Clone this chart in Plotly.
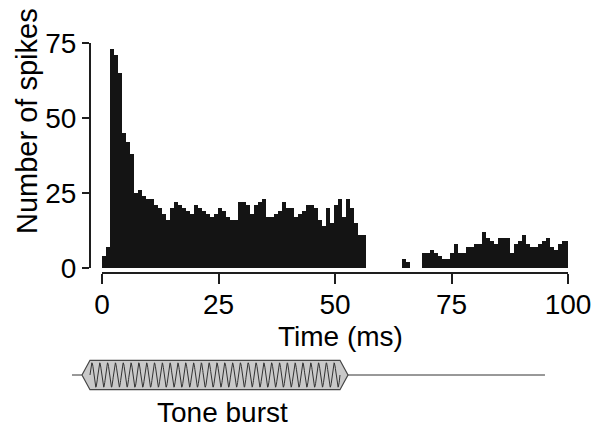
import numpy as np
import plotly.graph_objects as go

# ---- data ----
bin_width_ms = 0.8584
spike_counts = [
    4, 7, 73, 71, 65, 45, 42, 38, 25, 26,
    24, 23, 23, 21, 20, 18, 16, 20, 22, 21,
    20, 19, 18, 21, 20, 19, 18, 17, 18, 20,
    19, 17, 16, 16, 22, 22, 21, 18, 21, 22,
    23, 17, 17, 18, 19, 22, 20, 20, 17, 18,
    19, 21, 21, 20, 16, 14, 20, 15, 21, 23,
    17, 23, 20, 15, 11, 11, 0, 0, 0, 0,
    0, 0, 0, 0, 0, 3, 2, 0, 0, 0,
    5, 5, 6, 5, 4, 3, 3, 5, 8, 5,
    5, 7, 7, 8, 8, 12, 10, 9, 8, 10,
    10, 10, 5, 8, 9, 11, 8, 7, 7, 8,
    9, 10, 7, 6, 8, 9, 9,
]
x_ticks = [0, 25, 50, 75, 100]
y_ticks = [0, 25, 50, 75]
tone_start_ms = -2.58
tone_end_ms = 51.07
tone_cycles = 32

bin_centers = [(i + 0.5) * bin_width_ms for i in range(len(spike_counts))]

W, H = 591, 430
FONT = "Liberation Sans, Arial, Helvetica, sans-serif"
FS = 28
px_per_ms = 4.66

fig = go.Figure()

fig.add_trace(go.Bar(
    x=bin_centers, y=spike_counts, width=bin_width_ms,
    marker=dict(color="#141414", line=dict(width=0)),
    xaxis="x", yaxis="y", hoverinfo="skip",
))

# ---- tone burst schematic (auxiliary hidden axes, in ms units) ----
x_left = -102 / px_per_ms
x_right = (W - 102) / px_per_ms
env_h = 0.64
t0, t1 = tone_start_ms, tone_end_ms
p0, p1 = t0 - 8 / px_per_ms, t1 + 8 / px_per_ms
fig.add_trace(go.Scatter(
    x=[-6.44, 95.06], y=[0, 0], mode="lines",
    line=dict(color="#333333", width=1), xaxis="x2", yaxis="y2", hoverinfo="skip",
))
fig.add_trace(go.Scatter(
    x=[p0, t0, t1, p1, t1, t0, p0], y=[0, env_h, env_h, 0, -env_h, -env_h, 0],
    mode="lines", fill="toself", fillcolor="#c9c9c9",
    line=dict(color="#444444", width=1.2), xaxis="x2", yaxis="y2", hoverinfo="skip",
))
tt = np.linspace(t0, t1, 1200)
fig.add_trace(go.Scatter(
    x=tt, y=0.53 * np.sin(2 * np.pi * tone_cycles * (tt - t0) / (t1 - t0)),
    mode="lines", line=dict(color="#333333", width=1),
    xaxis="x2", yaxis="y2", hoverinfo="skip",
))

axis_common = dict(
    showline=True, linecolor="#1e1e1e", linewidth=2,
    ticks="outside", tickwidth=2, tickcolor="#1e1e1e",
    showgrid=False, zeroline=False, automargin=False,
    ticklabeloverflow="allow",
    tickfont=dict(family=FONT, size=FS, color="black"),
)

fig.update_layout(
    width=W, height=H,
    margin=dict(l=0, r=0, t=0, b=0),
    paper_bgcolor="white", plot_bgcolor="white",
    showlegend=False, bargap=0,
    xaxis=dict(
        domain=[102 / W, 568 / W], range=[0, 100],
        anchor="free", position=1 - 273 / H,
        tickvals=x_ticks, ticklen=10, ticklabelstandoff=-4, **axis_common,
    ),
    yaxis=dict(
        domain=[1 - 268 / H, 1 - 43 / H], range=[0, 75],
        anchor="free", position=90 / W,
        tickvals=y_ticks, ticklen=7, **axis_common,
    ),
    xaxis2=dict(domain=[0, 1], range=[x_left, x_right], anchor="y2", visible=False),
    yaxis2=dict(domain=[1 - 398 / H, 1 - 352 / H], range=[-1, 1], anchor="x2", visible=False),
    annotations=[
        dict(text="Number of spikes", textangle=-90, x=27 / W, y=1 - 121 / H,
             xref="paper", yref="paper", showarrow=False,
             xanchor="center", yanchor="middle",
             font=dict(family=FONT, size=29, color="black")),
        dict(text="Time (ms)", x=340 / W, y=1 - 336 / H,
             xref="paper", yref="paper", showarrow=False,
             xanchor="center", yanchor="middle",
             font=dict(family=FONT, size=FS, color="black")),
        dict(text="Tone burst", x=222 / W, y=1 - 412 / H,
             xref="paper", yref="paper", showarrow=False,
             xanchor="center", yanchor="middle",
             font=dict(family=FONT, size=FS, color="black")),
    ],
)

fig.write_html("out.html")
